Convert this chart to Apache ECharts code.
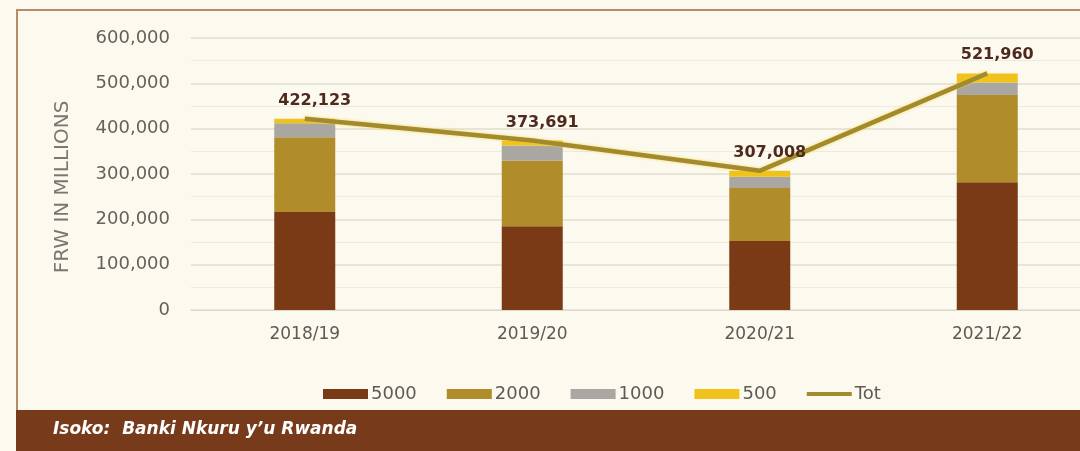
<!DOCTYPE html>
<html>
<head>
<meta charset="utf-8">
<script src="https://cdn.jsdelivr.net/npm/echarts@6/dist/echarts.min.js"></script>
<style>
html,body{margin:0;padding:0;background:#fcf9ee;}
#c{width:1080px;height:451px;}
</style>
</head>
<body>
<div id="c"></div>
<script>
const categories = ['2018/19', '2019/20', '2020/21', '2021/22'];
const s5000 = [216000, 185000, 152000, 282000];
const s2000 = [165000, 145000, 117000, 192000];
const s1000 = [31000, 33000, 25000, 28000];
const s500 = [10123, 10691, 13008, 19960];
const total = [422123, 373691, 307008, 521960];
const yTicks = [0, 100000, 200000, 300000, 400000, 500000, 600000];

const FONT = 'DejaVu Sans';
const chart = echarts.init(document.getElementById('c'));
const fmt = v => echarts.format.addCommas(v);

function barSeries(name, data, color) {
  return {
    name: name, type: 'bar', stack: 'notes', data: data, barWidth: 61,
    itemStyle: { color: color }, emphasis: { disabled: true }
  };
}

chart.setOption({
  backgroundColor: '#fcf9ee',
  animation: false,
  textStyle: { fontFamily: FONT },
  grid: { left: 191, top: 38, width: 910, height: 272, containLabel: false, outerBoundsMode: 'none' },
  xAxis: {
    type: 'category', data: categories,
    axisLine: { show: true, lineStyle: { color: '#dcd8cc', width: 1 } },
    axisTick: { show: false },
    axisLabel: { color: '#5e5a55', fontSize: 17, margin: 16, fontFamily: FONT }
  },
  yAxis: {
    type: 'value', min: yTicks[0], max: yTicks[yTicks.length - 1], interval: 100000,
    name: 'FRW IN MILLIONS', nameLocation: 'middle', nameGap: 118,
    nameTextStyle: { color: '#7a7670', fontSize: 20, fontFamily: FONT, padding: [0, 26, 0, 0] },
    axisLine: { show: false }, axisTick: { show: false },
    axisLabel: { color: '#66615b', fontSize: 18, margin: 21, fontFamily: FONT, formatter: v => fmt(v) },
    splitLine: { lineStyle: { color: '#e2ddd0', width: 1.5 } },
    minorTick: { show: false, splitNumber: 2 },
    minorSplitLine: { show: true, lineStyle: { color: '#eeeadd', width: 1 } }
  },
  legend: {
    left: 318, top: 380, itemWidth: 45, itemHeight: 10, itemGap: 30,
    textStyle: { color: '#5e5a55', fontSize: 18, fontFamily: FONT, padding: [0, 0, 0, -2] },
    data: [
      { name: '5000', icon: 'rect' },
      { name: '2000', icon: 'rect' },
      { name: '1000', icon: 'rect' },
      { name: '500', icon: 'rect' },
      { name: 'Tot', icon: 'path://M0,0 L45,0 L45,4 L0,4 Z' }
    ]
  },
  series: [
    barSeries('5000', s5000, '#7b3a16'),
    barSeries('2000', s2000, '#b08c2a'),
    barSeries('1000', s1000, '#aaa7a2'),
    barSeries('500', s500, '#f1c21b'),
    {
      name: 'Tot', type: 'line', data: total, symbol: 'circle', symbolSize: 0.1, showSymbol: true,
      lineStyle: { color: '#a38a2e', width: 4.5, shadowColor: 'rgba(240,210,40,0.8)', shadowBlur: 3 },
      itemStyle: { color: '#a38a2e' },
      emphasis: { disabled: true },
      z: 5,
      label: {
        show: true, position: 'top', distance: 10, offset: [10, 0],
        color: '#4e2a1e', fontSize: 16, fontWeight: 'bold', fontFamily: FONT,
        formatter: p => fmt(p.value)
      }
    }
  ],
  graphic: [
    { type: 'line', z: 10, shape: { x1: 17, y1: 10, x2: 1080, y2: 10 }, style: { stroke: '#b98a68', lineWidth: 2 } },
    { type: 'line', z: 10, shape: { x1: 17, y1: 9, x2: 17, y2: 451 }, style: { stroke: '#b98a68', lineWidth: 2 } },
    { type: 'rect', z: 10, shape: { x: 16, y: 410, width: 1064, height: 41 }, style: { fill: '#773a1b' } },
    { type: 'text', z: 11, left: 53, top: 421,
      style: { text: 'Isoko:  Banki Nkuru y\u2019u Rwanda', fill: '#ffffff', fontSize: 17,
               fontWeight: 'bold', fontStyle: 'italic', fontFamily: FONT } }
  ]
});
</script>
</body>
</html>
